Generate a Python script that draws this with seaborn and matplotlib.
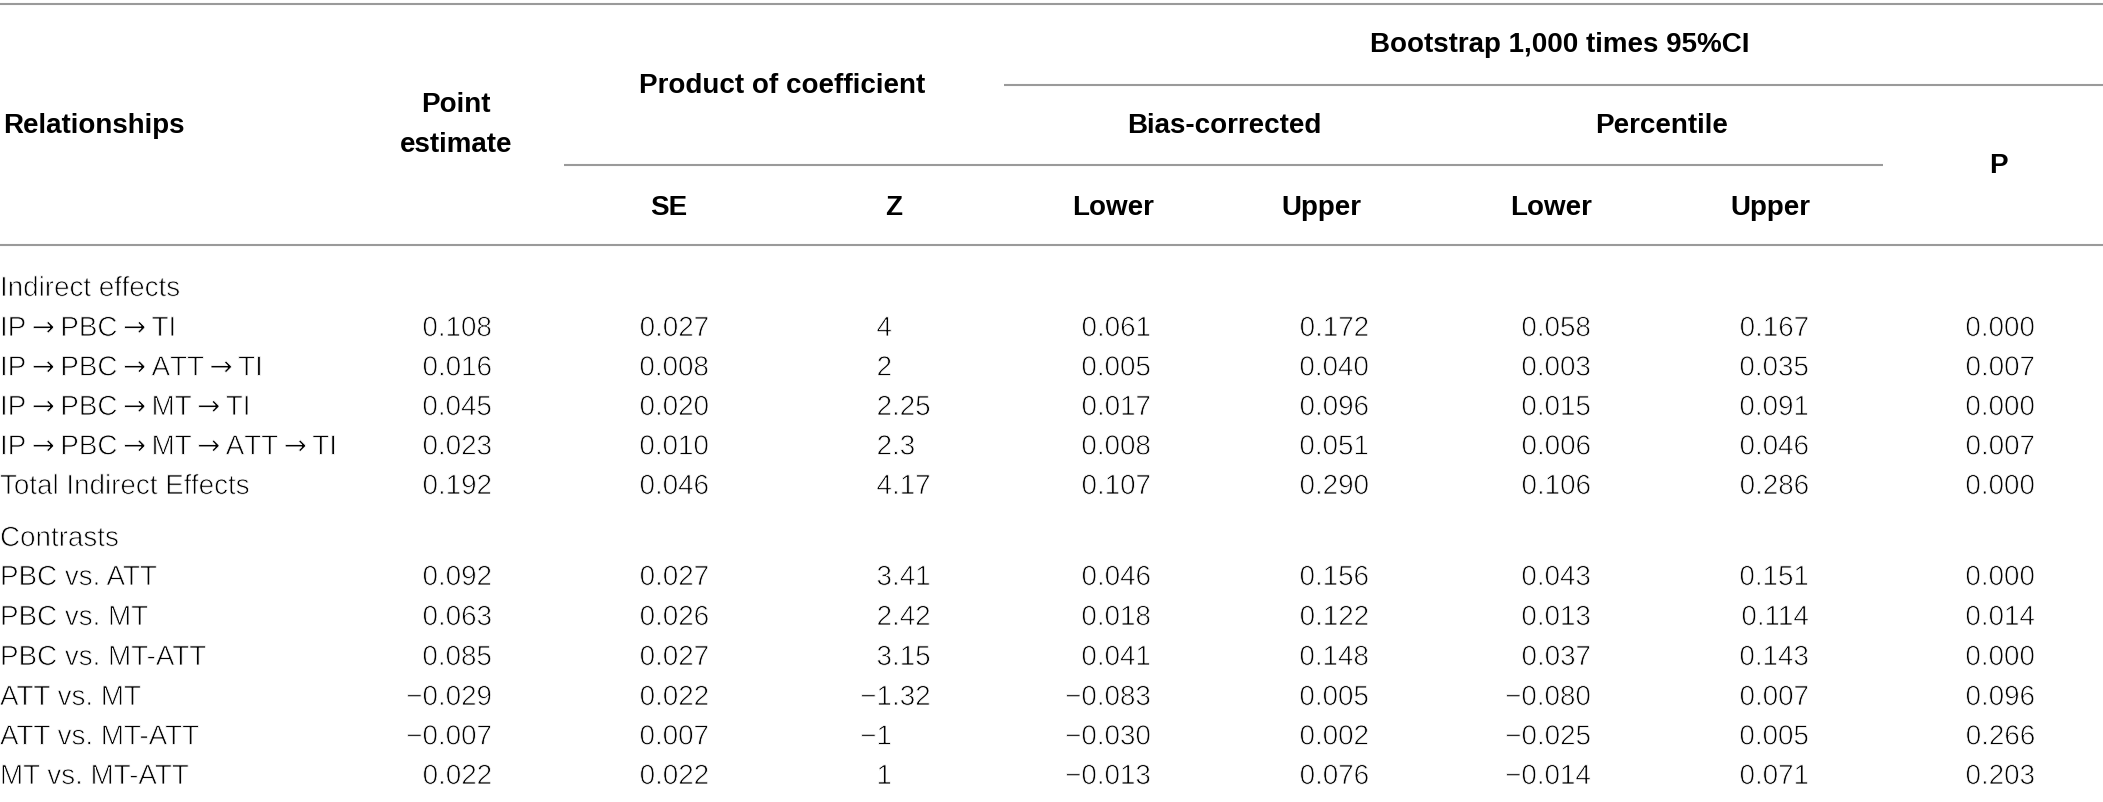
import numpy as np
import pandas as pd
import matplotlib
matplotlib.use("Agg")
import matplotlib.pyplot as plt
import matplotlib.patheffects as pe
import seaborn as sns

# -----------------------------
# Table data
# -----------------------------
ARR = r"$\rightarrow$"
indirect_rows = ["IP" + ARR + "PBC" + ARR + "TI",
                 "IP" + ARR + "PBC" + ARR + "ATT" + ARR + "TI",
                 "IP" + ARR + "PBC" + ARR + "MT" + ARR + "TI",
                 "IP" + ARR + "PBC" + ARR + "MT" + ARR + "ATT" + ARR + "TI",
                 "Total Indirect Effects"]
contrast_rows = ["PBC vs. ATT", "PBC vs. MT", "PBC vs. MT-ATT", "ATT vs. MT", "ATT vs. MT-ATT", "MT vs. MT-ATT"]

point_est = ["0.108", "0.016", "0.045", "0.023", "0.192",
             "0.092", "0.063", "0.085", "\u22120.029", "\u22120.007", "0.022"]
se_vals = ["0.027", "0.008", "0.020", "0.010", "0.046",
           "0.027", "0.026", "0.027", "0.022", "0.007", "0.022"]
z_vals = ["4", "2", "2.25", "2.3", "4.17",
          "3.41", "2.42", "3.15", "\u22121.32", "\u22121", "1"]
bc_lower = ["0.061", "0.005", "0.017", "0.008", "0.107",
            "0.046", "0.018", "0.041", "\u22120.083", "\u22120.030", "\u22120.013"]
bc_upper = ["0.172", "0.040", "0.096", "0.051", "0.290",
            "0.156", "0.122", "0.148", "0.005", "0.002", "0.076"]
pc_lower = ["0.058", "0.003", "0.015", "0.006", "0.106",
            "0.043", "0.013", "0.037", "\u22120.080", "\u22120.025", "\u22120.014"]
pc_upper = ["0.167", "0.035", "0.091", "0.046", "0.286",
            "0.151", "0.114", "0.143", "0.007", "0.005", "0.071"]
p_vals = ["0.000", "0.007", "0.000", "0.007", "0.000",
          "0.000", "0.014", "0.000", "0.096", "0.266", "0.203"]

df = pd.DataFrame({
    "Relationships": indirect_rows + contrast_rows,
    "Point": point_est, "SE": se_vals, "Z": z_vals,
    "BC_Lower": bc_lower, "BC_Upper": bc_upper,
    "PC_Lower": pc_lower, "PC_Upper": pc_upper, "P": p_vals,
})

# -----------------------------
# Figure setup (1 unit = 1 pixel)
# -----------------------------
sns.set_theme(style="white")
plt.rcParams['font.family'] = ['Liberation Sans', 'DejaVu Sans']
plt.rcParams['mathtext.fontset'] = 'dejavusans'

W, H = 2103, 802
fig = plt.figure(figsize=(W / 100, H / 100), dpi=100)
ax = fig.add_axes([0, 0, 1, 1])
ax.set_xlim(0, W)
ax.set_ylim(H, 0)
ax.axis("off")

FS = 20
LINE_C = "#9a9a9a"
LW = 1.5

# rules
ax.hlines(4, 0, W, color=LINE_C, lw=LW)
ax.hlines(85, 1004, W, color=LINE_C, lw=LW)
ax.hlines(165, 564, 1883, color=LINE_C, lw=LW)
ax.hlines(245, 0, W, color=LINE_C, lw=LW)

# header text
hb = dict(fontsize=FS, fontweight="bold", color="black", va="center", ha="center")
ax.text(3, 126, "Relationships", **{**hb, "ha": "left"})
ax.text(456, 105, "Point", **hb)
ax.text(456, 145, "estimate", **hb)
ax.text(782, 86, "Product of coefficient", **hb)
ax.text(1560, 45, "Bootstrap 1,000 times 95%CI", **hb)
ax.text(1224, 126, "Bias-corrected", **hb)
ax.text(1662, 126, "Percentile", **hb)
ax.text(1998, 166, "P", **hb)
for x, lab in zip([669, 894, 1113, 1321, 1551, 1770], ["SE", "Z", "Lower", "Upper", "Lower", "Upper"]):
    ax.text(x, 208, lab, **hb)

# body rows (thinned strokes to look like a light face)
thin = [pe.Stroke(linewidth=0.6, foreground="white")]
body = dict(fontsize=FS, color="black", va="baseline", path_effects=thin)
right_cols = {"Point": 492, "SE": 709, "BC_Lower": 1151, "BC_Upper": 1369,
              "PC_Lower": 1591, "PC_Upper": 1809, "P": 2035}
z_dec = 892

ax.text(0, 296, "Indirect effects", ha="left", **body)
ax.text(0, 546, "Contrasts", ha="left", **body)

row_y = [326, 365.5, 405, 444.5, 484, 575, 615, 655, 695, 734.5, 774]
for i, row in df.iterrows():
    base = row_y[i] + 10
    ax.text(0, base, row["Relationships"], ha="left", **body)
    for col, xr in right_cols.items():
        ax.text(xr, base, row[col], ha="right", **body)
    zs = row["Z"]
    if "." in zs:
        a, b = zs.split(".")
        ax.text(z_dec, base, a, ha="right", **body)
        ax.text(z_dec, base, "." + b, ha="left", **body)
    else:
        ax.text(z_dec, base, zs, ha="right", **body)

fig.savefig("out.png", dpi=100, facecolor="white")
